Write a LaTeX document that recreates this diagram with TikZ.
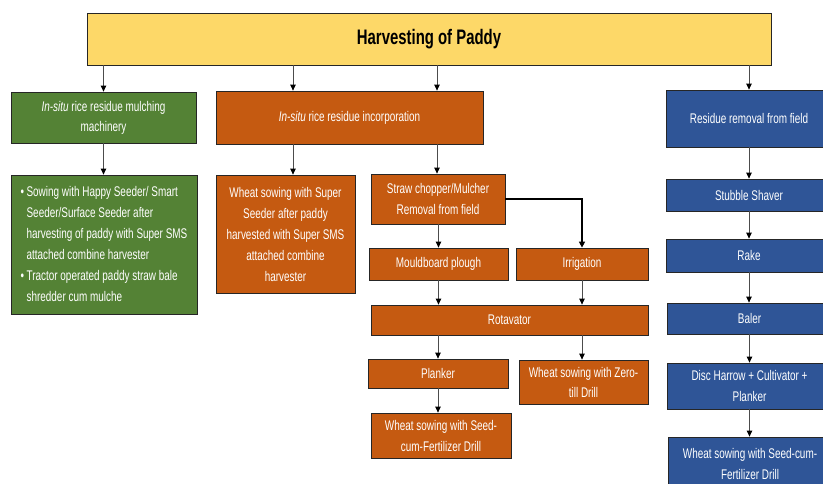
\documentclass[tikz,border=0pt]{standalone}
\usepackage{fontspec}
\setmainfont{Liberation Sans}[FakeStretch=0.71]
\usetikzlibrary{arrows.meta}
\definecolor{ttl}{HTML}{FDD868}
\definecolor{grn}{HTML}{548235}
\definecolor{org}{HTML}{C55A11}
\definecolor{blu}{HTML}{2F5597}
\newcommand\mybox[7]{\node[#2, minimum width={(#5-#3)*1pt}, minimum height={(#6-#4)*1pt}] (#1) at ({(#3+#5)/2},{(#4+#6)/2}) {#7};}
\begin{document}
\begin{tikzpicture}[x=1pt,y=-1pt,
  box/.style={draw=black!85, line width=0.8pt, inner sep=0pt, align=center, text=white, font=\fontsize{14}{21}\selectfont},
  gbox/.style={box, fill=grn},
  obox/.style={box, fill=org},
  bbox/.style={box, fill=blu},
  arr/.style={draw=black!70, line width=0.8pt, -{Triangle[width=5.5pt,length=6pt,black]}},
  barr/.style={draw=black, line width=1.6pt, -{Triangle[width=6pt,length=6pt,black]}}]
\useasboundingbox (0,0) rectangle (823,483);
\mybox{title}{box, fill=ttl, text=black, font=\fontsize{21}{25}\selectfont\bfseries}{87}{13}{771}{65}{Harvesting of Paddy}
\mybox{g1}{gbox, font=\fontsize{14}{20}\selectfont}{11}{92}{196}{143}{\textit{In-situ} rice residue mulching\\machinery}
\mybox{o1}{obox}{216}{91}{483}{144}{\textit{In-situ} rice residue incorporation}
\mybox{b1}{bbox}{666}{90}{832}{147}{Residue removal from field}
\mybox{g2}{gbox}{11}{175}{197}{314}{\begin{tabular}{@{}l@{\hspace{2.5pt}}l@{}}
\textbullet & Sowing with Happy Seeder/ Smart\\
 & Seeder/Surface Seeder after\\
 & harvesting of paddy with Super SMS\\
 & attached combine harvester\\
\textbullet & Tractor operated paddy straw bale\\
 & shredder cum mulche
\end{tabular}}
\mybox{o2}{obox}{216}{175}{355}{293}{Wheat sowing with Super\\Seeder after paddy\\harvested with Super SMS\\attached combine\\harvester}
\mybox{sc}{obox}{371}{174}{505}{224}{Straw chopper/Mulcher\\Removal from field}
\mybox{mp}{obox}{369}{248}{508}{280}{Mouldboard plough}
\mybox{ir}{obox}{516}{248}{648}{280}{Irrigation}
\mybox{rot}{obox}{371}{305}{648}{335}{Rotavator}
\mybox{pl}{obox}{368}{359}{508}{388}{Planker}
\mybox{zt}{obox, font=\fontsize{14}{20}\selectfont}{519}{360}{648}{404}{Wheat sowing with Zero-\\till Drill}
\mybox{sd}{obox}{371}{413}{511}{458}{Wheat sowing with Seed-\\cum-Fertilizer Drill}
\mybox{b2}{bbox}{666}{179}{832}{211}{Stubble Shaver}
\mybox{b3}{bbox}{666}{239}{832}{272}{Rake}
\mybox{b4}{bbox}{667}{303}{832}{334}{Baler}
\mybox{b5}{bbox}{667}{363}{832}{409}{Disc Harrow + Cultivator +\\Planker}
\mybox{b6}{bbox}{668}{437}{832}{492}{\raisebox{5pt}{\begin{tabular}{@{}c@{}}Wheat sowing with Seed-cum-\\Fertilizer Drill\end{tabular}}}
\coordinate (cA) at (293,0);
\coordinate (cB) at (437,0);
\draw[arr] (title.south -| g1.north) -- (g1.north);
\draw[arr] (title.south -| cA) -- (o1.north -| cA);
\draw[arr] (title.south -| cB) -- (o1.north -| cB);
\draw[arr] (title.south -| b1.north) -- (b1.north);
\draw[arr] (g1.south) -- (g2.north -| g1.south);
\draw[arr] (o1.south -| cA) -- (o2.north -| cA);
\draw[arr] (o1.south -| cB) -- (sc.north -| cB);
\draw[barr] (sc.east) -| (ir.north);
\draw[arr] (sc.south -| mp.north) -- (mp.north);
\draw[arr] (mp.south) -- (rot.north -| mp.south);
\draw[arr] (ir.south) -- (rot.north -| ir.south);
\draw[arr] (rot.south -| pl.north) -- (pl.north);
\draw[arr] (rot.south -| ir.south) -- (zt.north -| ir.south);
\draw[arr] (pl.south) -- (sd.north -| pl.south);
\draw[arr] (b1.south) -- (b2.north);
\draw[arr] (b2.south) -- (b3.north);
\draw[arr] (b3.south) -- (b4.north -| b3.south);
\draw[arr] (b4.south) -- (b5.north);
\draw[arr] (b5.south) -- (b6.north -| b5.south);
\end{tikzpicture}
\end{document}
